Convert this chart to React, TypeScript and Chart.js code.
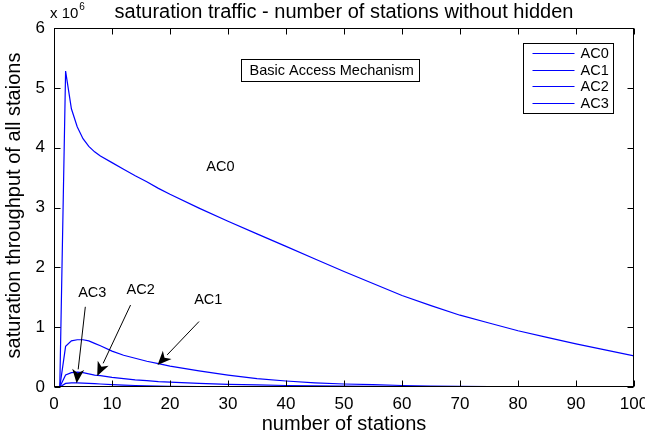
import React, { useEffect, useRef } from "react";
import { Chart, registerables } from "chart.js";

Chart.register(...registerables);

// ---- data (throughput in units of 1e6) ----
const stations = [1, 2, 3, 4, 5, 6, 7, 8, 10, 12, 14, 16, 18, 20, 25, 30, 35, 40, 45, 50, 55, 60, 65, 70, 75, 80, 85, 90, 95, 100];
const ac0 = [0, 5.28, 4.65, 4.35, 4.15, 4.02, 3.93, 3.86, 3.75, 3.64, 3.53, 3.43, 3.32, 3.22, 2.99, 2.77, 2.56, 2.35, 2.14, 1.93, 1.73, 1.53, 1.36, 1.2, 1.07, 0.94, 0.83, 0.72, 0.62, 0.52];
const ac1 = [0, 0.68, 0.77, 0.79, 0.79, 0.77, 0.73, 0.69, 0.6, 0.53, 0.48, 0.43, 0.39, 0.35, 0.27, 0.2, 0.14, 0.1, 0.07, 0.05, 0.04, 0.025, 0.015, 0.01, 0.006, 0.004, 0.003, 0.002, 0.002, 0.001];
const ac2 = [0, 0.2, 0.24, 0.25, 0.24, 0.22, 0.2, 0.19, 0.16, 0.14, 0.12, 0.105, 0.09, 0.08, 0.06, 0.045, 0.035, 0.025, 0.018, 0.013, 0.01, 0.007, 0.005, 0.003, 0.002, 0.001, 0.001, 0.001, 0, 0];
const ac3 = [0, 0.06, 0.07, 0.07, 0.065, 0.06, 0.055, 0.05, 0.04, 0.032, 0.025, 0.02, 0.016, 0.012, 0.007, 0.004, 0.002, 0.001, 0.001, 0, 0, 0, 0, 0, 0, 0, 0, 0, 0, 0];
const seriesNames = ["AC0", "AC1", "AC2", "AC3"];
const seriesValues = [ac0, ac1, ac2, ac3];
const MULT = 1e6;

const xTicks = [0, 10, 20, 30, 40, 50, 60, 70, 80, 90, 100];
const yTicks = [0, 1, 2, 3, 4, 5, 6];

const titleText = "saturation traffic - number of stations without hidden";
const xTitle = "number of stations";
const yTitle = "saturation throughput of all staions";

// annotations in data coordinates (x: stations, y: millions)
const labelNotes = [
  { text: "AC0", x: 28.7, y: 3.67 },
  { text: "AC3", x: 6.6, y: 1.575 },
  { text: "AC2", x: 14.95, y: 1.625 },
  { text: "AC1", x: 26.6, y: 1.446 },
];
const arrowNotes = [
  { x0: 5.4, y0: 1.34, x1: 3.9, y1: 0.062 },
  { x0: 13.2, y0: 1.37, x1: 7.45, y1: 0.184 },
  { x0: 25.0, y0: 1.094, x1: 17.85, y1: 0.368 },
];
const boxNote = { text: "Basic Access Mechanism", x: 32.3, y: 5.3 };

const FONT = "'Liberation Sans', Arial, Helvetica, sans-serif";
const BLUE = "#0000ff";
const NOTE_SIZE = 14.5;

const decor = {
  id: "decor",
  afterDraw(chart: any) {
    const { ctx, chartArea: a, scales } = chart;
    const xs = scales.x;
    const ys = scales.y;
    const px = (v: number) => xs.getPixelForValue(v);
    const py = (v: number) => ys.getPixelForValue(v * MULT);
    ctx.save();
    // frame
    ctx.strokeStyle = "#000";
    ctx.lineWidth = 1;
    const L = Math.round(a.left) + 0.5;
    const R = Math.round(a.right) - 0.5;
    const T = Math.round(a.top) + 0.5;
    const B = Math.round(a.bottom) - 0.5;
    ctx.strokeRect(L, T, R - L, B - T);
    // inward ticks
    const tl = 6;
    ctx.beginPath();
    xTicks.forEach((t) => {
      const p = Math.round(px(t)) + 0.5;
      ctx.moveTo(p, B);
      ctx.lineTo(p, B - tl);
      ctx.moveTo(p, T);
      ctx.lineTo(p, T + tl);
    });
    yTicks.forEach((t) => {
      const p = Math.round(py(t)) + 0.5;
      ctx.moveTo(L, p);
      ctx.lineTo(L + tl, p);
      ctx.moveTo(R, p);
      ctx.lineTo(R - tl, p);
    });
    ctx.stroke();

    ctx.fillStyle = "#000";
    // title
    ctx.font = `20px ${FONT}`;
    ctx.textAlign = "center";
    ctx.textBaseline = "alphabetic";
    ctx.fillText(titleText, (a.left + a.right) / 2, a.top - 10);
    // exponent
    ctx.textAlign = "left";
    ctx.font = `15px ${FONT}`;
    ctx.fillText("x 10", a.left - 4, a.top - 10);
    const w = ctx.measureText("x 10").width;
    ctx.font = `10px ${FONT}`;
    ctx.fillText("6", a.left - 4 + w + 1, a.top - 18);
    // axis titles
    ctx.font = `20px ${FONT}`;
    ctx.textAlign = "center";
    ctx.textBaseline = "middle";
    ctx.fillText(xTitle, (a.left + a.right) / 2, a.bottom + 37);
    ctx.save();
    ctx.translate(14, (a.top + a.bottom) / 2 - 2);
    ctx.rotate(-Math.PI / 2);
    ctx.fillText(yTitle, 0, 0);
    ctx.restore();

    // text notes
    ctx.font = `${NOTE_SIZE}px ${FONT}`;
    labelNotes.forEach((n) => {
      ctx.fillText(n.text, px(n.x), py(n.y));
    });
    // arrows
    arrowNotes.forEach((n) => {
      const x0 = px(n.x0), y0 = py(n.y0), x1 = px(n.x1), y1 = py(n.y1);
      const ang = Math.atan2(y1 - y0, x1 - x0);
      const hl = 14, hw = 6;
      const bx = x1 - hl * Math.cos(ang);
      const by = y1 - hl * Math.sin(ang);
      ctx.beginPath();
      ctx.moveTo(x0, y0);
      ctx.lineTo(bx, by);
      ctx.lineWidth = 1;
      ctx.strokeStyle = "#000";
      ctx.stroke();
      const nx = -Math.sin(ang), ny = Math.cos(ang);
      const nbx = x1 - hl * 0.72 * Math.cos(ang);
      const nby = y1 - hl * 0.72 * Math.sin(ang);
      ctx.beginPath();
      ctx.moveTo(x1, y1);
      ctx.lineTo(bx + nx * hw, by + ny * hw);
      ctx.lineTo(nbx, nby);
      ctx.lineTo(bx - nx * hw, by - ny * hw);
      ctx.closePath();
      ctx.fill();
    });
    // boxed note
    ctx.font = `${NOTE_SIZE}px ${FONT}`;
    ctx.textAlign = "left";
    const bw = ctx.measureText(boxNote.text).width;
    const bxl = Math.round(px(boxNote.x)) + 0.5;
    const byc = py(boxNote.y);
    const bTop = Math.round(byc - 11) + 0.5;
    ctx.fillStyle = "#fff";
    ctx.fillRect(bxl, bTop, Math.round(bw + 14), 22);
    ctx.strokeRect(bxl, bTop, Math.round(bw + 14), 22);
    ctx.fillStyle = "#000";
    ctx.fillText(boxNote.text, bxl + 8, byc + 1);

    // legend
    const lw = 90, lh = 70;
    const lx = Math.round(a.right - 21) - lw + 0.5;
    const ly = Math.round(a.top + 15) + 0.5;
    ctx.fillStyle = "#fff";
    ctx.fillRect(lx, ly, lw, lh);
    ctx.strokeStyle = "#000";
    ctx.lineWidth = 1;
    ctx.strokeRect(lx, ly, lw, lh);
    chart.data.datasets.forEach((ds: any, i: number) => {
      const yy = Math.round(ly + 9.5 + i * 16.7) + 0.5;
      ctx.beginPath();
      ctx.strokeStyle = ds.borderColor;
      ctx.lineWidth = 1;
      ctx.moveTo(lx + 9, yy);
      ctx.lineTo(lx + 51, yy);
      ctx.stroke();
      ctx.fillStyle = "#000";
      ctx.textBaseline = "middle";
      ctx.fillText(ds.label, lx + 57, yy + 0.5);
    });
    ctx.restore();
  },
};

export default function App() {
  const ref = useRef<HTMLCanvasElement | null>(null);
  useEffect(() => {
    if (!ref.current) return;
    const datasets = seriesNames.map((name, i) => ({
      label: name,
      data: stations.map((s, j) => ({ x: s, y: seriesValues[i][j] * MULT })),
      borderColor: BLUE,
      backgroundColor: BLUE,
      borderWidth: 1.2,
      pointRadius: 0,
      tension: 0,
      fill: false,
    }));
    const chart = new Chart(ref.current, {
      type: "line",
      data: { datasets },
      options: {
        animation: false,
        responsive: false,
        devicePixelRatio: 1,
        layout: { padding: { top: 28, right: 11, left: 0, bottom: 0 } },
        plugins: { legend: { display: false }, title: { display: false }, tooltip: { enabled: false } },
        scales: {
          x: {
            type: "linear",
            min: 0,
            max: 100,
            afterBuildTicks: (s: any) => { s.ticks = xTicks.map((v) => ({ value: v })); },
            afterFit: (s: any) => { s.height = 51; s.paddingLeft = 0; s.paddingRight = 0; },
            grid: { display: false, drawTicks: false },
            border: { display: false },
            ticks: { font: { size: 17, family: FONT }, color: "#000", padding: 7, maxRotation: 0, autoSkip: false },
          },
          y: {
            type: "linear",
            min: 0,
            max: 6 * MULT,
            afterBuildTicks: (s: any) => { s.ticks = yTicks.map((v) => ({ value: v * MULT })); },
            afterFit: (s: any) => { s.width = 54; s.paddingTop = 0; s.paddingBottom = 0; },
            grid: { display: false, drawTicks: false },
            border: { display: false },
            ticks: {
              font: { size: 17, family: FONT },
              color: "#000",
              padding: 9,
              autoSkip: false,
              callback: (v: any) => String(Math.round(Number(v) / MULT)),
            },
          },
        },
      },
      plugins: [decor],
    });
    return () => chart.destroy();
  }, []);
  return (
    <div style={{ position: "absolute", left: 0, top: 0, width: 645, height: 438, background: "#fff" }}>
      <canvas ref={ref} width={645} height={438} style={{ display: "block" }} />
    </div>
  );
}
